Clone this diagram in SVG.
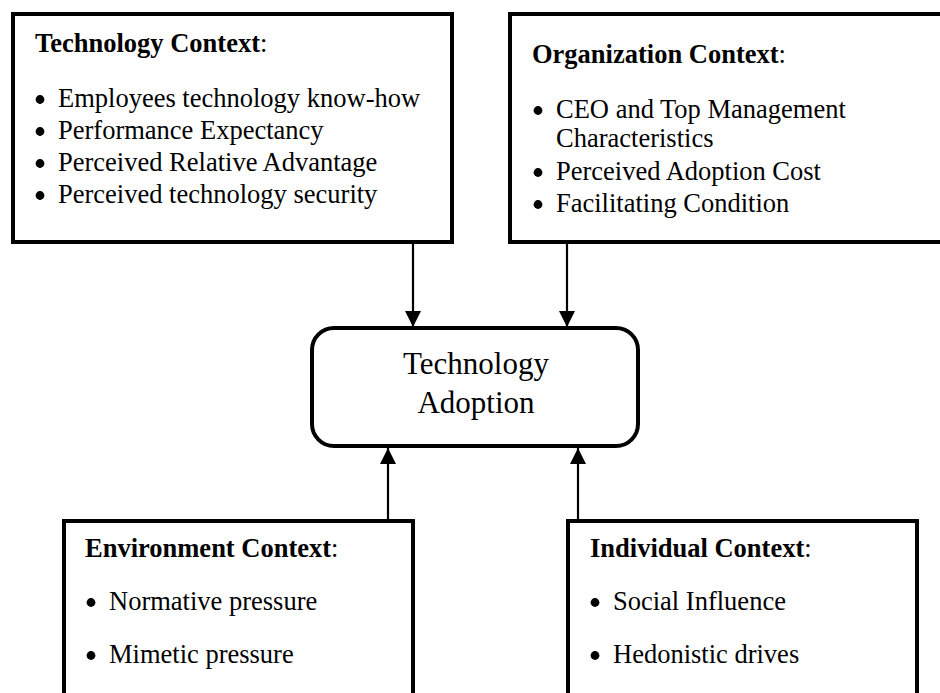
<svg xmlns="http://www.w3.org/2000/svg" width="940" height="693" viewBox="0 0 940 693">
  <defs>
    <marker id="arrow" viewBox="0 0 16 16" refX="16" refY="8" markerWidth="16" markerHeight="16" markerUnits="userSpaceOnUse" orient="auto">
      <path d="M0,0 L16,8 L0,16 Z" fill="#000"/>
    </marker>
    <style>
      .box { fill: #fff; stroke: #000; stroke-width: 4; }
      .core { fill: #fff; stroke: #000; stroke-width: 4; }
      .link { stroke: #000; stroke-width: 2.2; fill: none; marker-end: url(#arrow); }
      .hd { font-family: "Liberation Serif", "Times New Roman", serif; font-size: 26.5px; font-weight: bold; fill: #000; }
      .hd tspan.colon { font-weight: normal; }
      .item { font-family: "Liberation Serif", "Times New Roman", serif; font-size: 26.5px; fill: #000; }
      .dot { fill: #000; }
      .title { font-family: "Liberation Serif", "Times New Roman", serif; font-size: 31px; fill: #000; text-anchor: middle; }
    </style>
  </defs>

  <rect width="940" height="693" fill="#fff"/>

  <!-- Technology context -->
  <g id="technology-context">
    <rect class="box" x="13" y="14" width="439" height="228"/>
    <text class="hd" x="35" y="52">Technology Context<tspan class="colon">:</tspan></text>
    <circle class="dot" cx="40" cy="99.5" r="4.4"/>
    <text class="item" x="58" y="107">Employees technology know-how</text>
    <circle class="dot" cx="40" cy="131.5" r="4.4"/>
    <text class="item" x="58" y="139">Performance Expectancy</text>
    <circle class="dot" cx="40" cy="163.5" r="4.4"/>
    <text class="item" x="58" y="171">Perceived Relative Advantage</text>
    <circle class="dot" cx="40" cy="195.5" r="4.4"/>
    <text class="item" x="58" y="203">Perceived technology security</text>
  </g>

  <!-- Organization context (runs past the right edge) -->
  <g id="organization-context">
    <rect class="box" x="510" y="14" width="460" height="228"/>
    <text class="hd" x="532" y="63">Organization Context<tspan class="colon">:</tspan></text>
    <circle class="dot" cx="538" cy="110.5" r="4.4"/>
    <text class="item" x="556" y="118">CEO and Top Management</text>
    <text class="item" x="556" y="147">Characteristics</text>
    <circle class="dot" cx="538" cy="172.5" r="4.4"/>
    <text class="item" x="556" y="180">Perceived Adoption Cost</text>
    <circle class="dot" cx="538" cy="204.5" r="4.4"/>
    <text class="item" x="556" y="212">Facilitating Condition</text>
  </g>

  <!-- Central outcome -->
  <g id="technology-adoption">
    <rect class="core" x="312" y="328" width="326" height="118" rx="22" ry="22"/>
    <text class="title" x="476" y="374">Technology</text>
    <text class="title" x="476" y="413">Adoption</text>
  </g>

  <!-- Environment context (runs past the bottom edge) -->
  <g id="environment-context">
    <rect class="box" x="64" y="521" width="349" height="200"/>
    <text class="hd" x="85" y="557">Environment Context<tspan class="colon">:</tspan></text>
    <circle class="dot" cx="91" cy="602.5" r="4.4"/>
    <text class="item" x="109" y="610">Normative pressure</text>
    <circle class="dot" cx="91" cy="655.5" r="4.4"/>
    <text class="item" x="109" y="663">Mimetic pressure</text>
  </g>

  <!-- Individual context (runs past the bottom edge) -->
  <g id="individual-context">
    <rect class="box" x="568" y="521" width="349" height="200"/>
    <text class="hd" x="590" y="557">Individual Context<tspan class="colon">:</tspan></text>
    <circle class="dot" cx="595" cy="602.5" r="4.4"/>
    <text class="item" x="613" y="610">Social Influence</text>
    <circle class="dot" cx="595" cy="655.5" r="4.4"/>
    <text class="item" x="613" y="663">Hedonistic drives</text>
  </g>

  <!-- Connectors -->
  <g id="connectors">
    <line class="link" x1="413" y1="244" x2="413" y2="327"/>
    <line class="link" x1="567" y1="244" x2="567" y2="327"/>
    <line class="link" x1="388" y1="519" x2="388" y2="448"/>
    <line class="link" x1="578" y1="519" x2="578" y2="448"/>
  </g>
</svg>
